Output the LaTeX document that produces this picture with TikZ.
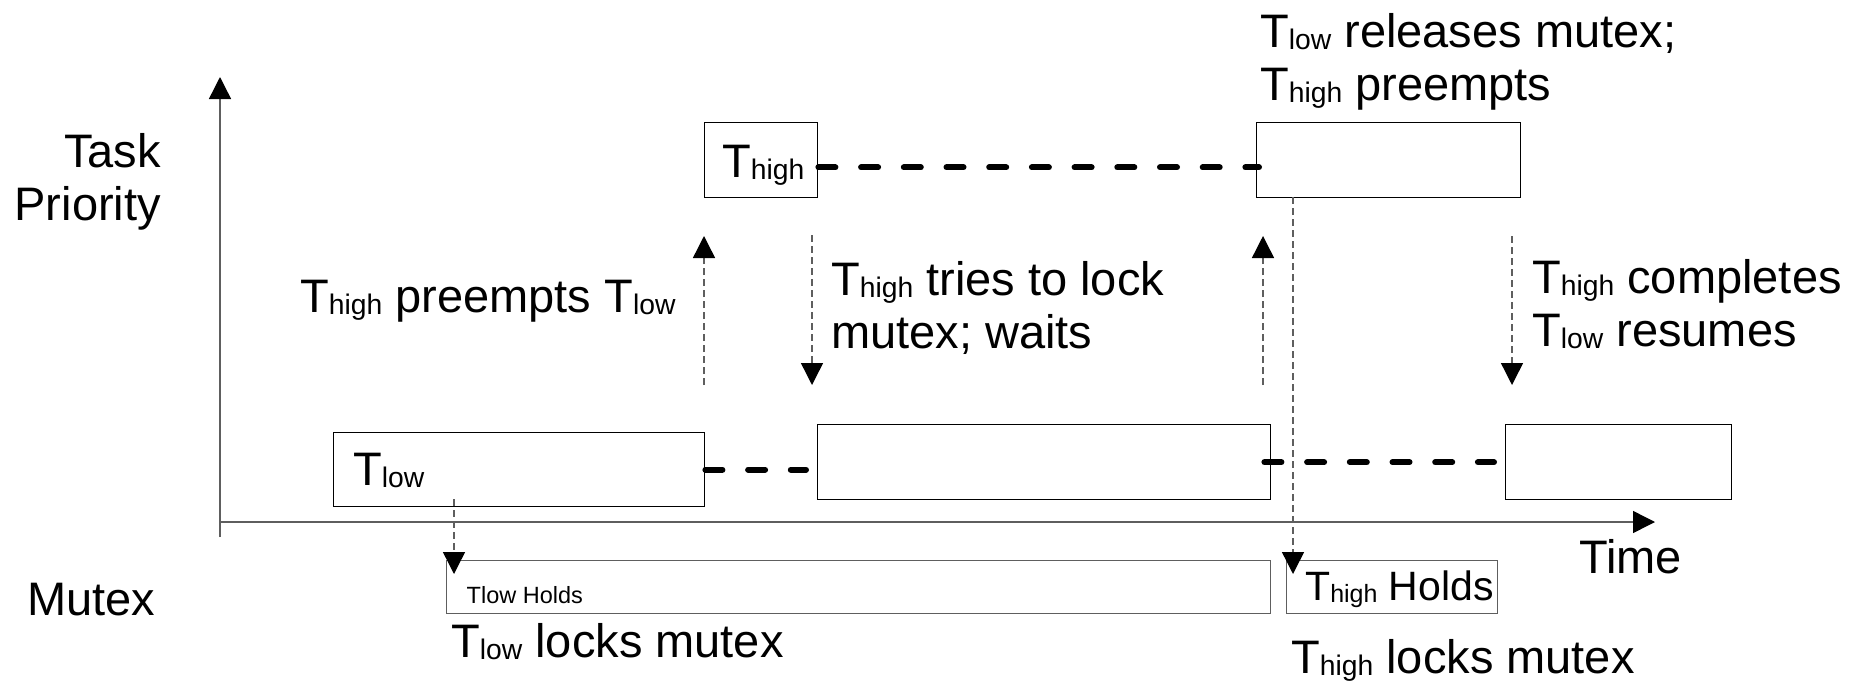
\documentclass[tikz,border=0pt]{standalone}
\usepackage{fontspec}
\setmainfont{Liberation Sans}
\usetikzlibrary{arrows.meta,calc}
\definecolor{lg}{HTML}{5E5E5E}
\newcommand{\tsub}[2][28.3]{T\raisebox{-2.5pt}{\fontsize{#1}{#1}\selectfont #2}}
\tikzset{
  box/.style={draw=black, line width=1.4pt, inner sep=0pt, anchor=north west},
  mbox/.style={draw=lg, line width=1.4pt, inner sep=0pt, anchor=north west},
  lbl/.style={font=\fontsize{47}{53}\selectfont, inner sep=0pt, anchor=base west},
  axisline/.style={draw=lg, line width=1.4pt, -{Triangle[length=22pt,width=22pt,color=black]}},
  thindash/.style={draw=lg, line width=1.4pt, dash pattern=on 7pt off 4pt, -{Triangle[length=22pt,width=22pt,color=black]}},
  thickdash/.style={draw=black, line width=6pt, line cap=round, dash pattern=on 17pt off 25.7pt}
}
\begin{document}
\begin{tikzpicture}[x=1pt,y=-1pt]
\useasboundingbox (0,0) rectangle (1864,683);

% axes
\coordinate (yb) at (220,537);
\coordinate (yt) at (220,77);
\coordinate (xo) at (220,522);
\coordinate (xe) at (1655,522);
\draw[axisline] (yb) -- (yt);
\draw[axisline] (xo) -- (xe);

% task boxes
\node[box, minimum width=371pt, minimum height=74pt] (tlow) at (333,432) {};
\node[box, minimum width=113pt, minimum height=75.5pt] (thigh) at (704,121.5) {};
\node[box, minimum width=453pt, minimum height=75pt] (mid) at (817,424) {};
\node[box, minimum width=264pt, minimum height=75.5pt] (ur) at (1256,121.5) {};
\node[box, minimum width=226pt, minimum height=75pt] (rlow) at (1505,424) {};

% mutex boxes
\node[mbox, minimum width=824pt, minimum height=53pt] (mtx1) at (446,560) {};
\node[mbox, minimum width=211pt, minimum height=53pt] (mtx2) at (1286,560) {};

% texts in boxes
\node[lbl] (tTlow) at (353,485) {\tsub{low}};
\node[lbl] (tThigh) at (722,177) {\tsub{high}};
\node[inner sep=0pt, anchor=base west, font=\fontsize{23.5}{26}\selectfont] (lowholds) at (466.5,603) {Tlow Holds};
\node[inner sep=0pt, anchor=base west, font=\fontsize{41}{46}\selectfont] (highholds) at (1305,600) {\tsub[25]{high} Holds};

% labels
\node[lbl, anchor=base east] (taskprio) at (161,167) {\begin{tabular}[t]{@{}r@{}}Task\\Priority\end{tabular}};
\node[lbl] (mutexlbl) at (27,615) {Mutex};
\node[lbl] (timelbl) at (1579,573) {Time};
\node[lbl] (preempt) at (300,312) {\tsub{high} preempts \tsub{low}};
\node[lbl] (tries) at (831,295) {\begin{tabular}[t]{@{}l@{}}\tsub{high} tries to lock\\mutex; waits\end{tabular}};
\node[lbl] (releases) at (1260,47) {\begin{tabular}[t]{@{}l@{}}\tsub{low} releases mutex;\\\tsub{high} preempts\end{tabular}};
\node[lbl] (completes) at (1532,293) {\begin{tabular}[t]{@{}l@{}}\tsub{high} completes\\\tsub{low} resumes\end{tabular}};
\node[lbl] (lowlocks) at (451,657) {\tsub{low} locks mutex};
\node[lbl] (highlocks) at (1291,673) {\tsub{high} locks mutex};

% thick dashed waiting lines
\draw[thickdash] ([yshift=-7.5pt]thigh.east) -- ([xshift=3pt,yshift=-7.5pt]ur.west);
\draw[thickdash] (tlow.east) -- ([xshift=-11pt]mid.west |- tlow.east);
\draw[thickdash] ([xshift=-7pt]mid.east) -- ([xshift=-11pt]rlow.west);

% event arrows
\coordinate (a1) at (704,385);
\coordinate (a2) at (704,236);
\coordinate (b1) at (812,235);
\coordinate (b2) at (812,385);
\coordinate (c1) at (1263,385);
\coordinate (c2) at (1263,236);
\coordinate (d1) at (1512,236);
\coordinate (d2) at (1512,385);
\coordinate (e1) at (454,499);
\coordinate (e2) at (454,574);
\coordinate (f1) at (1293,197);
\coordinate (f2) at (1293,574);
\draw[thindash] (a1) -- (a2);
\draw[thindash] (b1) -- (b2);
\draw[thindash] (c1) -- (c2);
\draw[thindash] (d1) -- (d2);
\draw[thindash] (e1) -- (e2);
\draw[thindash] (f1) -- (f2);
\end{tikzpicture}
\end{document}
